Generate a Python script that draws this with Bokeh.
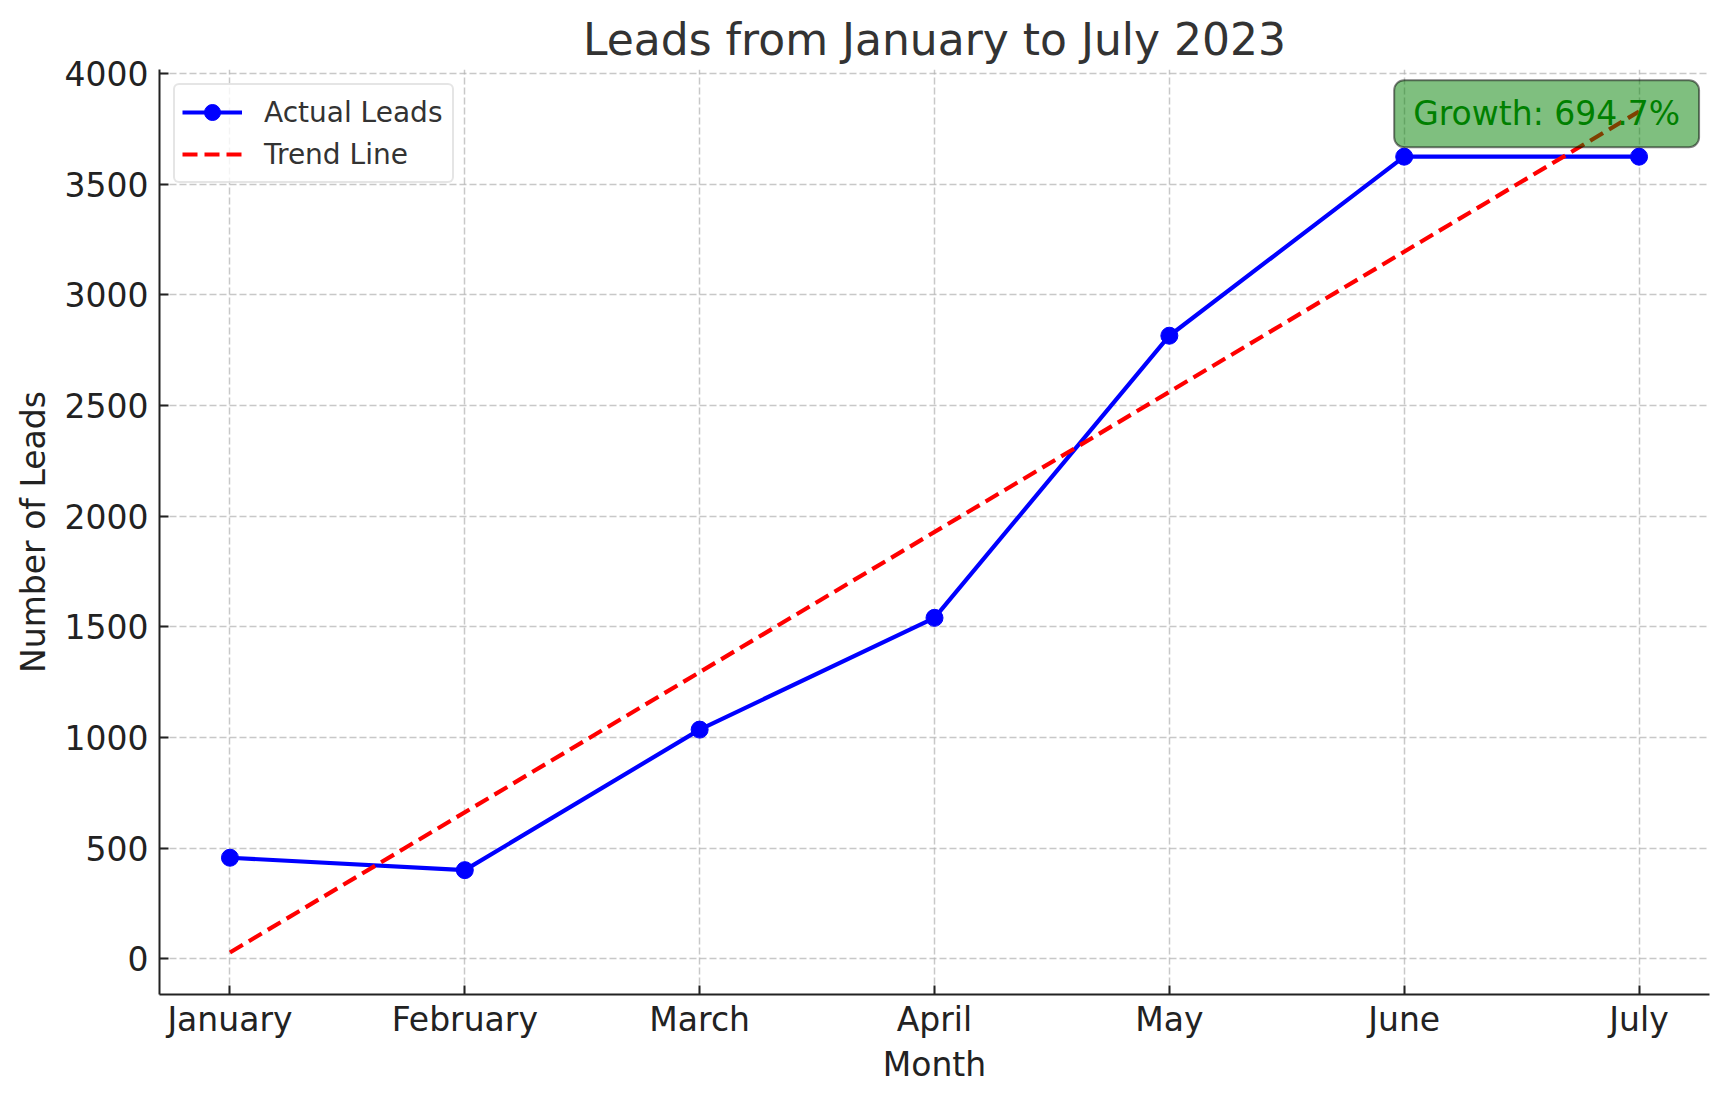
from bokeh.plotting import figure
from bokeh.models import FixedTicker, Range1d, Label, Legend
from bokeh.embed import file_html
from bokeh.resources import INLINE

# ---- data ----
months = ["January", "February", "March", "April", "May", "June", "July"]
leads = [456, 400, 1035, 1540, 2815, 3624, 3624]
trend_months = ["January", "July"]
trend_values = [28, 3828]
y_ticks = [0, 500, 1000, 1500, 2000, 2500, 3000, 3500, 4000]

FONT = "DejaVu Sans"

x_idx = [months.index(m) for m in months]
tx_idx = [months.index(m) for m in trend_months]

# matplotlib-like 5% margins
x_span = max(x_idx) - min(x_idx)
x_lo, x_hi = min(x_idx) - 0.05 * x_span, max(x_idx) + 0.05 * x_span
ys_all = leads + trend_values
y_span = max(ys_all) - min(ys_all)
y_lo, y_hi = min(ys_all) - 0.05 * y_span, max(ys_all) + 0.05 * y_span

growth = (leads[-1] - leads[0]) / leads[0] * 100

p = figure(
    frame_width=1550, frame_height=925,
    x_range=Range1d(x_lo, x_hi), y_range=Range1d(y_lo, y_hi),
    output_backend="svg", toolbar_location=None,
    min_border_left=159, min_border_right=3,
    min_border_top=69, min_border_bottom=91,
    title="Leads from January to July 2023",
)
p.outline_line_color = None
p.background_fill_color = "white"
p.border_fill_color = "white"

# title
p.title.text_font = FONT
p.title.text_font_size = "44px"
p.title.text_font_style = "normal"
p.title.text_color = "#333333"
p.title.align = "center"
p.title.standoff = 10

# axes
for ax in (p.xaxis[0], p.yaxis[0]):
    ax.axis_line_color = "#222222"
    ax.axis_line_width = 2
    ax.major_tick_line_color = "#222222"
    ax.major_tick_line_width = 2
    ax.major_tick_in = 9
    ax.major_tick_out = 0
    ax.minor_tick_line_color = None
    ax.major_label_text_font = FONT
    ax.major_label_text_font_size = "33px"
    ax.major_label_text_color = "#222222"
    ax.axis_label_text_font = FONT
    ax.axis_label_text_font_size = "33px"
    ax.axis_label_text_font_style = "normal"
    ax.axis_label_text_color = "#222222"

p.xaxis.ticker = FixedTicker(ticks=x_idx)
p.xaxis.major_label_overrides = {i: m for i, m in zip(x_idx, months)}
p.xaxis.major_label_standoff = 5
p.xaxis.axis_label = "Month"
p.xaxis.axis_label_standoff = 3

p.yaxis.ticker = FixedTicker(ticks=y_ticks)
p.yaxis.major_label_standoff = 11
p.yaxis.axis_label = "Number of Leads"
p.yaxis.axis_label_standoff = 9

# grid
for g in (p.xgrid[0], p.ygrid[0]):
    g.grid_line_color = "#b0b0b0"
    g.grid_line_alpha = 0.7
    g.grid_line_width = 1.5
    g.grid_line_dash = "7 3"

# glyphs
r_line = p.line(x_idx, leads, line_color="blue", line_width=4.2)
r_pts = p.scatter(x_idx, leads, size=17, marker="circle",
                  fill_color="blue", line_color="blue")
r_trend = p.line(tx_idx, trend_values, line_color="red", line_width=4.2,
                 line_dash="15 7")

legend = Legend(items=[("Actual Leads", [r_line, r_pts]), ("Trend Line", [r_trend])])
legend.location = "top_left"
legend.margin = 14
legend.padding = 7
legend.spacing = 2
legend.label_height = 28
legend.label_width = 181
legend.glyph_height = 40
legend.glyph_width = 60
legend.label_standoff = 22
legend.label_text_font = FONT
legend.label_text_font_size = "28px"
legend.label_text_color = "#333333"
legend.border_line_color = "#cccccc"
legend.border_line_width = 2
legend.background_fill_color = "white"
legend.background_fill_alpha = 0.8
if "border_radius" in Legend.properties():
    legend.border_radius = 6
p.add_layout(legend, "center")

label = Label(
    x=months.index("June"), y=leads[-1], x_offset=-10, y_offset=43,
    text=f"Growth: {growth:.1f}%",
    text_font=FONT, text_font_size="33px", text_color="green",
    text_align="left", text_baseline="middle",
    background_fill_color="green", background_fill_alpha=0.5,
    border_line_color="black", border_line_alpha=0.5, border_line_width=2,
    padding=(19, 14), border_radius=10,
)
p.add_layout(label)

open("out.html", "w").write(file_html(p, INLINE))
